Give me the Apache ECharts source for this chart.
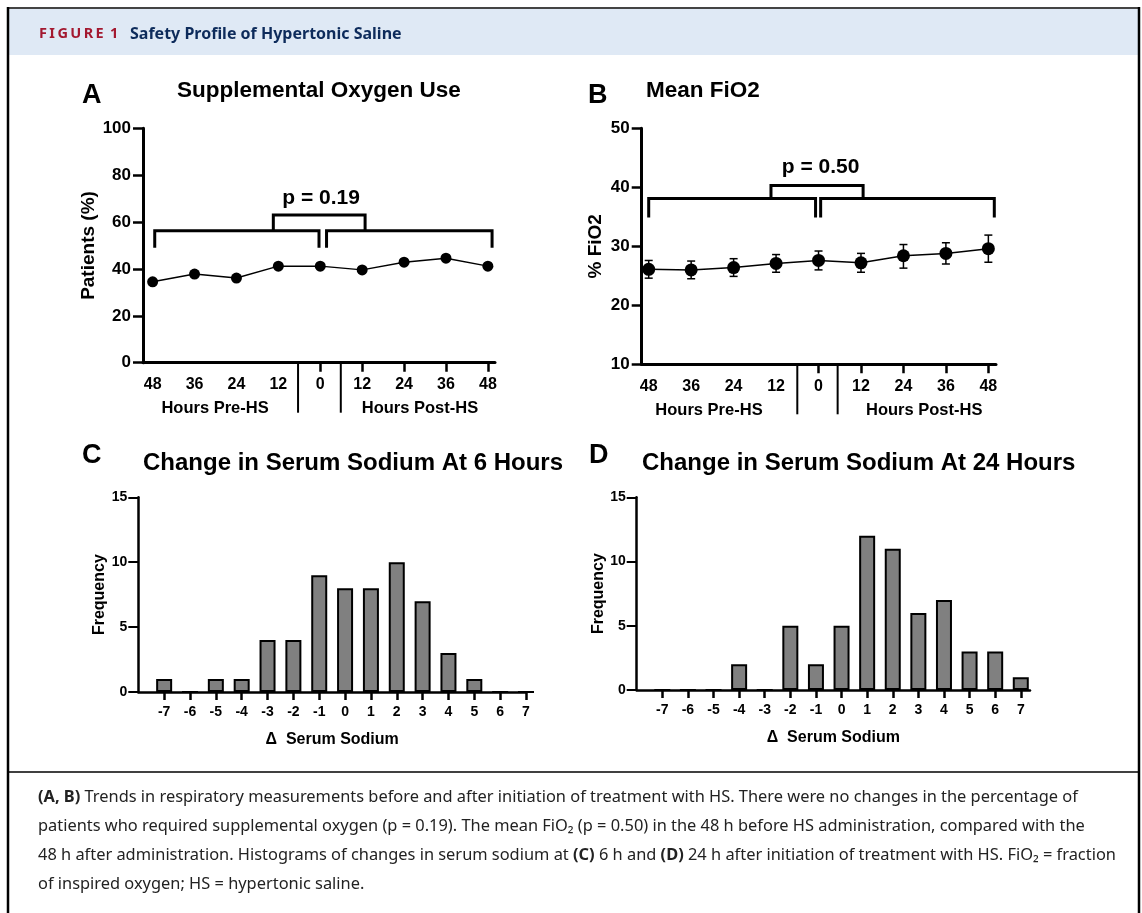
<!DOCTYPE html>
<html><head><meta charset="utf-8">
<script src="https://cdn.jsdelivr.net/npm/echarts@6/dist/echarts.min.js"></script>
<style>html,body{margin:0;padding:0;background:#fff}#c{width:1142px;height:913px}</style>
</head><body><div id="c"></div>
<script>
// ---------- data ----------
const hourLabels = ['48','36','24','12','0','12','24','36','48'];
const oxygenPct = [34.5, 37.8, 36.1, 41.2, 41.2, 39.6, 42.9, 44.6, 41.2];
const fio2Mean = [26.1, 26.0, 26.4, 27.1, 27.6, 27.2, 28.4, 28.8, 29.6];
const fio2Low  = [24.6, 24.5, 24.9, 25.6, 26.0, 25.6, 26.3, 27.0, 27.3];
const fio2High = [27.6, 27.5, 27.9, 28.6, 29.2, 28.8, 30.3, 30.6, 31.9];
const sodiumChange = [-7,-6,-5,-4,-3,-2,-1,0,1,2,3,4,5,6,7];
const freq6h  = [1,0,1,1,4,4,9,8,8,10,7,3,1,0,0];
const freq24h = [0,0,0,2,0,5,2,5,12,11,6,7,3,3,1];
const pValueA = 'p = 0.19';
const pValueB = 'p = 0.50';

// ---------- styling ----------
const FONT = '"Liberation Sans", Arial, sans-serif';
const CAP = '"Noto Sans", sans-serif';
const chart = echarts.init(document.getElementById('c'), null, {renderer:'canvas', width:1142, height:913});

function hoursXAxis(idx, min, max){
  return {type:'value', gridIndex:idx, min:min, max:max,
    axisLine:{show:true, onZero:false, lineStyle:{color:'#000', width:3}},
    axisTick:{show:true, customValues:[4,5,6,7,8], length:9, lineStyle:{color:'#000', width:2.5}},
    axisLabel:{customValues:hourLabels.map((_,i)=>i), formatter:v=>hourLabels[Math.round(v)],
      color:'#000', fontFamily:FONT, fontWeight:'bold', fontSize:16, margin:14},
    splitLine:{show:false}};
}
function sodiumXAxis(idx, max){
  return {type:'value', gridIndex:idx, min:-8, max:max,
    name:'\u0394  Serum Sodium', nameLocation:'middle', nameGap:40,
    nameTextStyle:{color:'#000', fontFamily:FONT, fontWeight:'bold', fontSize:16},
    axisLine:{show:true, onZero:false, lineStyle:{color:'#000', width:2.5}},
    axisTick:{show:true, customValues:sodiumChange, length:8, lineStyle:{color:'#000', width:2.5}},
    axisLabel:{customValues:sodiumChange, color:'#000', fontFamily:FONT, fontWeight:'bold', fontSize:14, margin:13},
    splitLine:{show:false}};
}
function yAx(idx, min, max, interval, name, nameGap, nameSize, labelSize, lw, tickLen, margin){
  return {type:'value', gridIndex:idx, min:min, max:max, interval:interval,
    name:name, nameLocation:'middle', nameGap:nameGap, nameRotate:90,
    nameTextStyle:{color:'#000', fontFamily:FONT, fontWeight:'bold', fontSize:nameSize},
    axisLine:{show:true, onZero:false, lineStyle:{color:'#000', width:lw}},
    axisTick:{show:true, length:tickLen, lineStyle:{color:'#000', width:lw-0.5}},
    axisLabel:{color:'#000', fontFamily:FONT, fontWeight:'bold', fontSize:labelSize, margin:margin},
    splitLine:{show:false}};
}

// annotation series: brackets, p-value, separators and group labels (in data coords)
function annotSeries(idx, cfg){
  return {type:'custom', xAxisIndex:idx, yAxisIndex:idx, clip:false, silent:true, z:5,
    data:[0],
    renderItem:function(params, api){
      const P = (x,y)=>api.coord([x,y]);
      const ls = {stroke:'#000', lineWidth:3, fill:null, lineJoin:'miter', lineCap:'butt'};
      const ch = [];
      const br = (x0,x1,yl,yh)=>ch.push({type:'polyline', shape:{points:[P(x0,yl),P(x0,yh),P(x1,yh),P(x1,yl)]}, style:ls});
      br(cfg.left[0], cfg.left[1], cfg.low, cfg.high);
      br(cfg.right[0], cfg.right[1], cfg.low, cfg.high);
      br(cfg.upper[0], cfg.upper[1], cfg.high, cfg.top);
      const pt = P(cfg.pText[0], cfg.pText[1]);
      ch.push({type:'text', x:pt[0], y:pt[1], style:{text:cfg.p, fill:'#000', font:'bold 21px '+FONT, align:'center', verticalAlign:'middle'}});
      cfg.seps.forEach(s=>{
        const a = P(s, cfg.ymin);
        ch.push({type:'line', shape:{x1:a[0], y1:a[1], x2:a[0], y2:a[1]+50}, style:{stroke:'#000', lineWidth:2}});
      });
      const pre = P(cfg.preX, cfg.ymin), post = P(cfg.postX, cfg.ymin);
      ch.push({type:'text', x:pre[0], y:pre[1]+46, style:{text:'Hours Pre-HS', fill:'#000', font:'bold 16.5px '+FONT, align:'center', verticalAlign:'middle'}});
      ch.push({type:'text', x:post[0], y:post[1]+46, style:{text:'Hours Post-HS', fill:'#000', font:'bold 16.5px '+FONT, align:'center', verticalAlign:'middle'}});
      return {type:'group', children:ch};
    }};
}

const capRich = {b:{fontWeight:'bold', fontFamily:CAP, fontSize:16.4, fill:'#222'}};
const option = {
  animation:false,
  backgroundColor:'#fff',
  grid:[
    {left:143, top:128.3, width:352, height:234.4},
    {left:641.7, top:128.3, width:354.3, height:236},
    {left:138.3, top:497.3, width:387.7, height:194.7},
    {left:636.7, top:497.3, width:393.3, height:192.7}
  ],
  xAxis:[
    hoursXAxis(0, -0.23, 8.17),
    hoursXAxis(1, -0.165, 8.18),
    sodiumXAxis(2, 7),
    sodiumXAxis(3, 7.36)
  ],
  yAxis:[
    yAx(0, 0, 100, 20, 'Patients (%)', 44, 19, 17, 3, 10, 12),
    yAx(1, 10, 50, 10, '% FiO2', 36, 19, 17, 3, 10, 12),
    yAx(2, 0, 15, 5, 'Frequency', 31, 16, 14, 2.5, 10, 11),
    yAx(3, 0, 15, 5, 'Frequency', 30, 16, 14, 2.5, 10, 11)
  ],
  series:[
    {type:'line', xAxisIndex:0, yAxisIndex:0, z:4,
     data:oxygenPct.map((v,i)=>[i,v]), symbol:'circle', symbolSize:11,
     lineStyle:{color:'#000', width:1.5}, itemStyle:{color:'#000'}},
    annotSeries(0, {left:[0.05,3.97], right:[4.15,8.1], upper:[2.88,5.07], low:49, high:56.3, top:63,
      pText:[4.02,70], p:pValueA, seps:[3.47,4.49], ymin:0, preX:1.49, postX:6.38}),
    {type:'custom', xAxisIndex:1, yAxisIndex:1, z:3,
     data:fio2Mean.map((m,i)=>[i, fio2Low[i], fio2High[i]]),
     encode:{x:0, y:[1,2]},
     renderItem:function(params, api){
       const x = api.value(0);
       const lo = api.coord([x, api.value(1)]), hi = api.coord([x, api.value(2)]);
       const w = 4, st = {stroke:'#000', lineWidth:1.5};
       return {type:'group', children:[
         {type:'line', shape:{x1:lo[0], y1:lo[1], x2:hi[0], y2:hi[1]}, style:st},
         {type:'line', shape:{x1:lo[0]-w, y1:lo[1], x2:lo[0]+w, y2:lo[1]}, style:st},
         {type:'line', shape:{x1:hi[0]-w, y1:hi[1], x2:hi[0]+w, y2:hi[1]}, style:st}
       ]};
     }},
    {type:'line', xAxisIndex:1, yAxisIndex:1, z:4,
     data:fio2Mean.map((v,i)=>[i,v]), symbol:'circle', symbolSize:13,
     lineStyle:{color:'#000', width:1.5}, itemStyle:{color:'#000'}},
    annotSeries(1, {left:[0,3.93], right:[4.05,8.14], upper:[2.88,5.05], low:34.9, high:38.1, top:40.3,
      pText:[4.05,43.4], p:pValueB, seps:[3.5,4.45], ymin:10, preX:1.42, postX:6.49}),
    {type:'bar', xAxisIndex:2, yAxisIndex:2, barWidth:16,
     data:sodiumChange.map((x,i)=>[x, freq6h[i]]),
     itemStyle:{color:'#808080', borderColor:'#000', borderWidth:2}},
    {type:'bar', xAxisIndex:3, yAxisIndex:3, barWidth:16,
     data:sodiumChange.map((x,i)=>[x, freq24h[i]]),
     itemStyle:{color:'#808080', borderColor:'#000', borderWidth:2}}
  ],
  graphic:[
    // frame & header
    {type:'rect', shape:{x:8, y:8, width:1131, height:47}, style:{fill:'#dfe9f5'}, z:-10},
    {type:'line', shape:{x1:7, y1:8, x2:1140, y2:8}, style:{stroke:'#444', lineWidth:2}},
    {type:'line', shape:{x1:8, y1:7, x2:8, y2:913}, style:{stroke:'#000', lineWidth:2.5}},
    {type:'line', shape:{x1:1139, y1:7, x2:1139, y2:913}, style:{stroke:'#000', lineWidth:2.5}},
    {type:'line', shape:{x1:8, y1:772, x2:1139, y2:772}, style:{stroke:'#000', lineWidth:1.5}},
    {type:'text', x:39, y:34, style:{text:'F\u2009I\u2009G\u2009U\u2009R\u2009E\u2009 1', fill:'#a3182f', font:'bold 14.5px '+CAP, verticalAlign:'middle'}},
    {type:'text', x:130, y:34, style:{text:'Safety Profile of Hypertonic Saline', fill:'#0d2b5b', font:'bold 16px '+CAP, verticalAlign:'middle'}},
    // panel titles
    {type:'text', x:82, y:96, style:{text:'A', fill:'#000', font:'bold 27px '+FONT, verticalAlign:'middle'}},
    {type:'text', x:177, y:91, style:{text:'Supplemental Oxygen Use', fill:'#000', font:'bold 22.5px '+FONT, verticalAlign:'middle'}},
    {type:'text', x:588, y:96, style:{text:'B', fill:'#000', font:'bold 27px '+FONT, verticalAlign:'middle'}},
    {type:'text', x:646, y:91, style:{text:'Mean FiO2', fill:'#000', font:'bold 22.5px '+FONT, verticalAlign:'middle'}},
    {type:'text', x:82, y:456, style:{text:'C', fill:'#000', font:'bold 27px '+FONT, verticalAlign:'middle'}},
    {type:'text', x:143, y:463, style:{text:'Change in Serum Sodium At 6 Hours', fill:'#000', font:'bold 24px '+FONT, verticalAlign:'middle'}},
    {type:'text', x:589, y:456, style:{text:'D', fill:'#000', font:'bold 27px '+FONT, verticalAlign:'middle'}},
    {type:'text', x:642, y:463, style:{text:'Change in Serum Sodium At 24 Hours', fill:'#000', font:'bold 24px '+FONT, verticalAlign:'middle'}},
    // caption
    {type:'text', x:38, y:797, style:{text:'{b|(A, B)} Trends in respiratory measurements before and after initiation of treatment with HS. There were no changes in the percentage of', fill:'#222', font:'16.4px '+CAP, verticalAlign:'middle', rich:capRich}},
    {type:'text', x:38, y:826, style:{text:'patients who required supplemental oxygen (p = 0.19). The mean FiO\u2082 (p = 0.50) in the 48 h before HS administration, compared with the', fill:'#222', font:'16.4px '+CAP, verticalAlign:'middle'}},
    {type:'text', x:38, y:855, style:{text:'48 h after administration. Histograms of changes in serum sodium at {b|(C)} 6 h and {b|(D)} 24 h after initiation of treatment with HS. FiO\u2082 = fraction', fill:'#222', font:'16.4px '+CAP, verticalAlign:'middle', rich:capRich}},
    {type:'text', x:38, y:884, style:{text:'of inspired oxygen; HS = hypertonic saline.', fill:'#222', font:'16.4px '+CAP, verticalAlign:'middle'}}
  ]
};
chart.setOption(option);
</script>
</body></html>
